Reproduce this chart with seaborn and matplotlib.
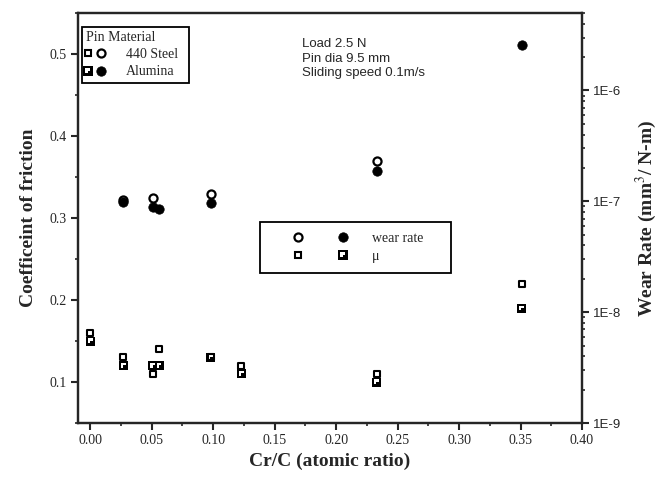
import numpy as np
import matplotlib
matplotlib.use("Agg")
import matplotlib.pyplot as plt
import seaborn as sns
from matplotlib.path import Path
from matplotlib.markers import MarkerStyle
from matplotlib.lines import Line2D
from matplotlib.legend_handler import HandlerTuple
from matplotlib.ticker import MultipleLocator, FormatStrFormatter, LogLocator, FuncFormatter, NullFormatter

# data
cr_c = [0.0, 0.027, 0.051, 0.056, 0.098, 0.123, 0.233, 0.351]
mu_steel = [0.16, 0.13, 0.11, 0.14, 0.13, 0.12, 0.11, 0.22]
mu_alumina = [0.15, 0.12, 0.12, 0.12, 0.13, 0.11, 0.10, 0.19]

cr_c_wear_steel = [0.027, 0.051, 0.098, 0.233]
wear_steel = [1.02e-7, 1.07e-7, 1.17e-7, 2.32e-7]
cr_c_wear_alumina = [0.027, 0.051, 0.056, 0.098, 0.233, 0.351]
wear_alumina = [0.98e-7, 0.89e-7, 0.85e-7, 0.97e-7, 1.88e-7, 2.58e-6]

conditions = "Load 2.5 N\nPin dia 9.5 mm\nSliding speed 0.1m/s"

sns.set_style("ticks")
plt.rcParams['font.family'] = ['Liberation Serif', 'DejaVu Serif']
plt.rcParams['mathtext.fontset'] = 'stix'

# black square with a small white notch, like the original symbol
verts = [(-1, -1), (1, -1), (1, 1), (-1, 1), (-1, -1),
         (-0.6, 0.6), (0.5, 0.6), (0.5, 0.1), (-0.1, 0.1), (-0.1, -0.5), (-0.6, -0.5), (-0.6, 0.6)]
codes = [Path.MOVETO, Path.LINETO, Path.LINETO, Path.LINETO, Path.CLOSEPOLY,
         Path.MOVETO, Path.LINETO, Path.LINETO, Path.LINETO, Path.LINETO, Path.LINETO, Path.CLOSEPOLY]
notch_sq = MarkerStyle(Path(verts, codes))

fig = plt.figure(figsize=(6.65, 4.79), dpi=100)
ax = fig.add_axes([0.1173, 0.1169, 0.7579, 0.8559])
ax2 = ax.twinx()
ax2.set_yscale('log')

# friction coefficient (left axis)
sns.scatterplot(x=cr_c, y=mu_steel, ax=ax, marker='s', s=24, color='white', edgecolor='black', linewidth=1.5, zorder=3)
sns.scatterplot(x=cr_c, y=mu_alumina, ax=ax, marker=notch_sq, s=42, color='black', edgecolor='none', linewidth=0, zorder=3)

# wear rate (right axis)
sns.scatterplot(x=cr_c_wear_steel, y=wear_steel, ax=ax2, marker='o', s=34, color='white', edgecolor='black', linewidth=1.6, zorder=3)
sns.scatterplot(x=cr_c_wear_alumina, y=wear_alumina, ax=ax2, marker='o', s=46, color='black', edgecolor='black', linewidth=0.5, zorder=4)

ax.set_xlim(-0.01, 0.40)
ax.set_ylim(0.05, 0.55)
ax2.set_ylim(1e-9, 5e-6)

ax.xaxis.set_major_locator(MultipleLocator(0.05))
ax.xaxis.set_minor_locator(MultipleLocator(0.025))
ax.xaxis.set_major_formatter(FormatStrFormatter('%.2f'))
ax.yaxis.set_major_locator(MultipleLocator(0.1))
ax.yaxis.set_minor_locator(MultipleLocator(0.05))
ax.yaxis.set_major_formatter(FormatStrFormatter('%.1f'))

ax2.yaxis.set_major_locator(LogLocator(base=10))
ax2.yaxis.set_minor_locator(LogLocator(base=10, subs=np.arange(2, 10)))
ax2.yaxis.set_major_formatter(FuncFormatter(lambda v, p: "1E%d" % int(round(np.log10(v)))))
ax2.yaxis.set_minor_formatter(NullFormatter())

for a in (ax, ax2):
    for sp in a.spines.values():
        sp.set_linewidth(1.6)
        sp.set_visible(True)
ax.tick_params(which='major', direction='out', length=5, width=1.5, labelsize=10, pad=3)
ax.tick_params(which='minor', direction='out', length=2.5, width=1.2)
ax.tick_params(top=False, right=False)
ax2.tick_params(which='major', direction='out', length=5, width=1.5, labelsize=9.5, pad=3)
ax2.tick_params(which='minor', direction='out', length=2.5, width=1.2)
for lab in ax2.get_yticklabels():
    lab.set_family('Liberation Sans')

ax.set_xlabel("Cr/C (atomic ratio)", fontsize=14, fontweight='bold', labelpad=4)
ax.set_ylabel("Coefficeint of friction", fontsize=14, fontweight='bold', labelpad=9)
ax2.set_ylabel(r"Wear Rate (mm$^3$/ N-m)", fontsize=14, fontweight='bold', rotation=90, labelpad=9)

ax.text(0.444, 0.938, conditions, transform=ax.transAxes, ha='left', va='top',
        fontsize=9.5, family='Liberation Sans', linespacing=1.25)

# legends
open_sq = Line2D([], [], ls='none', marker='s', ms=4.9, mfc='white', mec='black', mew=1.5)
fill_sq = Line2D([], [], ls='none', marker=notch_sq, ms=6.5, mfc='black', mec='none', mew=0)
open_ci = Line2D([], [], ls='none', marker='o', ms=5.8, mfc='white', mec='black', mew=1.6)
fill_ci = Line2D([], [], ls='none', marker='o', ms=6.8, mfc='black', mec='black', mew=0.5)

leg1 = ax2.legend([(open_sq, open_ci), (fill_sq, fill_ci)], ["440 Steel  ", "Alumina"],
                  title="Pin Material", alignment='left', title_fontsize=10, fontsize=10,
                  loc='upper left', bbox_to_anchor=(0.008, 0.966), borderaxespad=0,
                  borderpad=0.3, handlelength=1.22, handletextpad=1.65, labelspacing=0.3,
                  fancybox=False, framealpha=1, edgecolor='black',
                  handler_map={tuple: HandlerTuple(ndivide=None, pad=0.65)})
leg1.get_frame().set_linewidth(1.3)
leg1.set_zorder(5)
ax2.add_artist(leg1)

leg2 = ax2.legend([(open_ci, fill_ci), (open_sq, fill_sq)], ["wear rate     ", "\u03bc"],
                  fontsize=10, loc='upper left', bbox_to_anchor=(0.361, 0.490), borderaxespad=0,
                  borderpad=0.7, handlelength=7.27, handletextpad=0.1, labelspacing=0.36,
                  fancybox=False, framealpha=1, edgecolor='black',
                  handler_map={tuple: HandlerTuple(ndivide=None, pad=-0.79)})
leg2.get_frame().set_linewidth(1.3)

fig.savefig("out.png", dpi=100)
